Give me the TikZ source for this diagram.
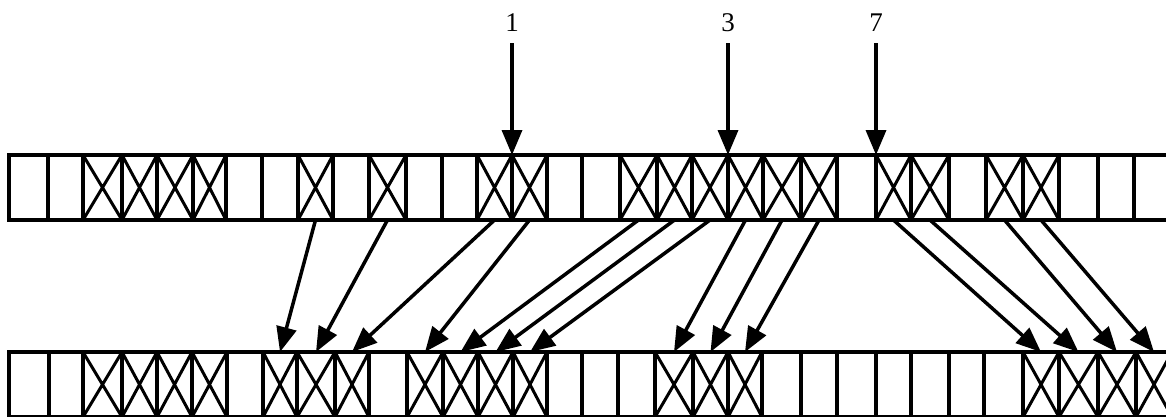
\documentclass[tikz,border=0pt]{standalone}
\usepackage{fontspec}
\setmainfont{Liberation Serif}
\usetikzlibrary{arrows.meta}
\begin{document}
\begin{tikzpicture}[x=1pt,y=-1pt,
  cellline/.style={line width=3.2pt},
  crossline/.style={line width=3pt},
  flowarrow/.style={line width=3.5pt,-{Triangle[length=25pt,width=20pt]}},
  numlabel/.style={font=\fontsize{27}{30}\selectfont,inner sep=0pt}
]
\useasboundingbox (0,0) rectangle (1166,416);
\clip (0,0) rectangle (1166,416);
% top row of cells
\foreach \a/\b/\m [count=\i from 0] in {9/48/0,48/83/0,83/122/1,122/157/1,157/193/1,193/226/1,226/262/0,262/298/0,298/333/1,333/369/0,369/406/1,406/442/0,442/477/0,477/512/1,512/547/1,547/582/0,582/620/0,620/657/1,657/692/1,692/728/1,728/763/1,763/801/1,801/837/1,837/876/0,876/911/1,911/949/1,949/986/0,986/1023/1,1023/1059/1,1059/1098/0,1098/1134/0,1134/1172/0}{
  \draw[cellline] (\a,155) rectangle (\b,220);
  \ifnum\m=1 \draw[crossline] (\a,155) -- (\b,220) (\a,220) -- (\b,155);\fi
  \coordinate (t\i) at ({(\a+\b)/2},220);
  \coordinate (v\i) at (\a,155);
}
% bottom row of cells
\foreach \a/\b/\m [count=\i from 0] in {9/49/0,49/83/0,83/122/1,122/157/1,157/192/1,192/227/1,227/263/0,263/297/1,297/335/1,335/369/1,369/407/0,407/443/1,443/478/1,478/513/1,513/547/1,547/582/0,582/618/0,618/655/0,655/693/1,693/728/1,728/762/1,762/801/0,801/837/0,837/876/0,876/911/0,911/949/0,949/984/0,984/1023/0,1023/1059/1,1059/1098/1,1098/1136/1,1136/1172/1}{
  \draw[cellline] (\a,352) rectangle (\b,417);
  \ifnum\m=1 \draw[crossline] (\a,352) -- (\b,417) (\a,417) -- (\b,352);\fi
  \coordinate (b\i) at ({(\a+\b)/2},352);
}
% labelled vertical arrows
\node[numlabel] (n1) at (512,23) {1};
\node[numlabel] (n3) at (728,23) {3};
\node[numlabel] (n7) at (876,23) {7};
\draw[flowarrow,shorten <=11pt] (n1) -- (v14);
\draw[flowarrow,shorten <=11pt] (n3) -- (v20);
\draw[flowarrow,shorten <=11pt] (n7) -- (v24);
% moves from top row to bottom row
\foreach \s/\e in {8/7,10/8,13/9,14/11,17/12,18/13,19/14,20/18,21/19,22/20,24/28,25/29,27/30,28/31}
  \draw[flowarrow] (t\s) -- (b\e);
\end{tikzpicture}
\end{document}
